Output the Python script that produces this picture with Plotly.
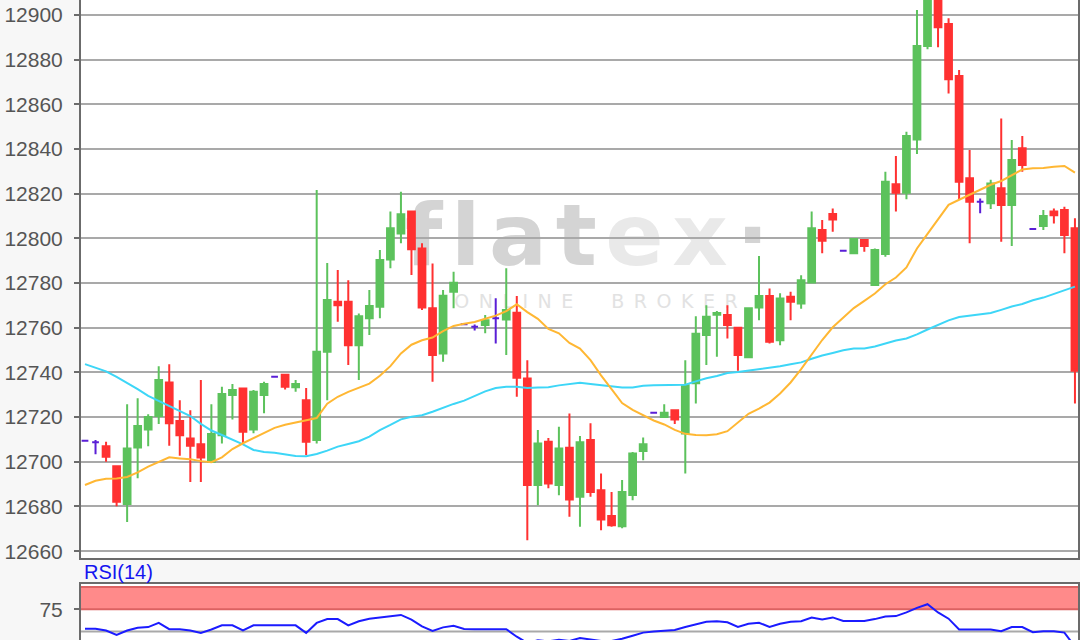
import plotly.graph_objects as go

# ---------------- data ----------------
opens = [12709.4, 12708.7, 12707.0, 12698.0, 12681.1, 12706.4, 12714.5, 12720.5, 12735.5, 12718.3,
         12710.4, 12707.9, 12700.0, 12711.9, 12729.9, 12732.8, 12714.5, 12729.9, 12738.1, 12739.0,
         12733.4, 12727.6, 12709.7, 12749.2, 12771.6, 12771.6, 12752.2, 12764.2, 12769.4, 12790.6,
         12802.2, 12812.0, 12795.5, 12768.7, 12748.5, 12776.1, 12761.6, 12760.4, 12761.2, 12764.2,
         12763.7, 12766.7, 12737.3, 12689.6, 12709.0, 12689.6, 12706.3, 12684.3, 12709.7, 12687.3,
         12675.7, 12671.2, 12685.1, 12704.8, 12721.9, 12720.1, 12723.1, 12712.7, 12735.1, 12756.7,
         12765.8, 12765.7, 12760.0, 12746.8, 12769.1, 12774.2, 12754.4, 12773.9, 12770.9, 12780.3,
         12803.7, 12810.9, 12794.5, 12793.3, 12799.3, 12779.1, 12793.0, 12824.2, 12820.4, 12844.3,
         12886.1, 12912.0, 12896.0, 12872.7, 12826.9, 12816.4, 12815.7, 12822.4, 12814.9, 12840.3,
         12804.2, 12805.5, 12812.0, 12812.7, 12804.5]
highs = [12709.4, 12709.7, 12709.0, 12698.0, 12725.8, 12728.4, 12721.3, 12742.8, 12743.7, 12727.6,
         12723.1, 12736.6, 12725.8, 12733.6, 12734.8, 12732.8, 12732.1, 12735.8, 12738.1, 12739.0,
         12736.6, 12733.0, 12821.6, 12789.0, 12785.8, 12781.3, 12766.4, 12776.9, 12794.8, 12812.0,
         12820.9, 12812.0, 12797.8, 12788.8, 12776.9, 12785.1, 12761.6, 12761.5, 12765.7, 12773.2,
         12786.6, 12774.2, 12745.5, 12714.2, 12710.6, 12715.7, 12721.6, 12711.5, 12717.2, 12694.8,
         12686.5, 12691.8, 12704.4, 12710.9, 12721.9, 12725.8, 12723.1, 12745.5, 12765.2, 12770.1,
         12767.5, 12770.1, 12760.0, 12768.7, 12792.1, 12777.6, 12775.4, 12776.1, 12783.5, 12812.0,
         12808.2, 12813.4, 12794.5, 12799.7, 12799.3, 12795.5, 12829.8, 12836.9, 12847.7, 12902.2,
         12916.0, 12918.0, 12898.5, 12875.4, 12839.6, 12817.9, 12826.2, 12853.7, 12844.0, 12845.8,
         12804.2, 12812.7, 12813.4, 12814.2, 12809.0]
lows = [12709.4, 12703.4, 12700.0, 12680.1, 12673.1, 12692.6, 12707.0, 12716.9, 12707.2, 12702.7,
        12691.0, 12691.0, 12699.5, 12708.2, 12718.9, 12708.2, 12712.8, 12721.7, 12738.1, 12732.4,
        12731.3, 12703.0, 12708.2, 12727.6, 12762.7, 12743.3, 12736.6, 12756.7, 12764.2, 12786.6,
        12797.8, 12783.6, 12767.9, 12735.8, 12744.8, 12768.7, 12761.6, 12758.8, 12757.5, 12753.0,
        12747.8, 12729.1, 12664.9, 12680.6, 12688.2, 12685.0, 12675.4, 12670.9, 12684.3, 12669.4,
        12670.9, 12670.2, 12682.8, 12700.7, 12721.9, 12720.1, 12716.9, 12694.8, 12726.1, 12743.3,
        12747.0, 12755.2, 12740.8, 12746.5, 12763.4, 12753.0, 12752.2, 12763.4, 12768.5, 12779.9,
        12793.3, 12803.0, 12794.5, 12793.3, 12794.0, 12778.8, 12791.8, 12812.0, 12817.5, 12837.8,
        12884.6, 12885.5, 12864.9, 12817.2, 12797.8, 12811.2, 12813.2, 12798.5, 12796.6, 12829.8,
        12804.2, 12803.7, 12806.7, 12793.3, 12726.1]
closes = [12709.4, 12708.7, 12702.2, 12682.1, 12706.0, 12716.0, 12720.1, 12736.6, 12717.2, 12711.9,
          12707.2, 12701.9, 12712.4, 12730.3, 12732.1, 12713.4, 12731.3, 12734.8, 12738.1, 12733.6,
          12734.8, 12709.0, 12749.2, 12772.4, 12770.1, 12752.2, 12765.2, 12769.7, 12790.3, 12804.5,
          12810.8, 12795.1, 12769.1, 12747.8, 12774.3, 12780.1, 12761.6, 12760.4, 12763.4, 12764.2,
          12767.9, 12737.6, 12689.6, 12708.2, 12690.3, 12706.0, 12683.1, 12708.8, 12686.5, 12674.2,
          12671.6, 12686.5, 12703.7, 12707.9, 12721.9, 12721.9, 12718.9, 12734.3, 12757.3, 12764.9,
          12766.6, 12761.2, 12747.8, 12768.7, 12774.2, 12753.7, 12773.1, 12771.6, 12781.3, 12804.5,
          12798.9, 12808.5, 12794.5, 12799.7, 12796.6, 12794.8, 12825.4, 12820.4, 12845.8, 12886.1,
          12912.0, 12894.5, 12871.2, 12825.4, 12816.4, 12816.4, 12824.6, 12814.9, 12835.1, 12832.8,
          12804.2, 12810.0, 12810.4, 12801.5, 12740.8]

ma_fast = [12689.6, 12691.5, 12692.4, 12692.5, 12693.2, 12695.3, 12697.8, 12699.8, 12702.0, 12701.5,
           12701.1, 12700.3, 12699.8, 12702.0, 12705.7, 12708.3, 12710.5, 12713.0, 12715.2, 12716.6,
           12717.7, 12718.7, 12719.6, 12726.0, 12729.1, 12731.3, 12733.3, 12735.0, 12738.5, 12742.8,
           12748.5, 12752.4, 12754.4, 12755.6, 12758.5, 12760.8, 12761.8, 12762.6, 12764.0, 12765.4,
           12767.4, 12770.5, 12767.0, 12764.0, 12759.5, 12757.5, 12753.2, 12750.7, 12745.5, 12738.7,
           12732.5, 12726.3, 12723.2, 12720.9, 12718.5, 12716.7, 12714.3, 12712.5, 12712.0, 12711.9,
           12712.3, 12713.7, 12717.5, 12721.5, 12723.8, 12726.5, 12730.6, 12735.5, 12741.5, 12748.0,
           12754.5, 12760.2, 12764.5, 12768.8, 12772.0, 12775.3, 12779.5, 12782.5, 12787.0, 12795.5,
           12802.0, 12808.5, 12815.0, 12817.3, 12819.5, 12822.0, 12824.0, 12825.7, 12828.4, 12830.8,
           12831.4, 12831.5, 12832.1, 12832.4, 12829.4]
ma_slow = [12743.7, 12742.0, 12740.5, 12738.0, 12735.3, 12732.5, 12729.5, 12727.2, 12724.8, 12722.8,
           12720.5, 12717.0, 12714.0, 12712.0, 12710.0, 12707.8, 12705.3, 12704.4, 12704.0, 12703.2,
           12702.6, 12702.5, 12703.5, 12705.0, 12706.8, 12708.0, 12709.2, 12711.3, 12714.2, 12716.5,
           12719.0, 12720.2, 12720.8, 12722.4, 12724.2, 12725.9, 12727.4, 12729.6, 12731.5, 12733.0,
           12733.6, 12733.6, 12733.0, 12733.3, 12733.4, 12734.2, 12734.9, 12735.4, 12734.8, 12734.3,
           12733.7, 12733.3, 12733.3, 12734.0, 12734.3, 12734.3, 12734.3, 12734.5, 12736.0, 12737.4,
           12738.4, 12739.7, 12740.2, 12740.8, 12741.4, 12742.1, 12742.8, 12743.7, 12744.5, 12746.1,
           12747.6, 12748.7, 12749.9, 12750.7, 12750.7, 12751.6, 12753.0, 12754.3, 12755.2, 12757.0,
           12759.2, 12761.3, 12763.3, 12764.8, 12765.5, 12765.9, 12766.6, 12768.0, 12769.5, 12770.6,
           12772.3, 12773.5, 12775.2, 12776.9, 12778.4]
rsi = [53.1, 53.1, 51.2, 46.2, 51.2, 54.3, 55.0, 59.7, 52.7, 52.7,
       51.2, 48.5, 52.3, 57.0, 57.0, 51.2, 57.0, 57.0, 57.0, 57.0,
       57.0, 48.5, 59.7, 64.0, 64.0, 57.0, 61.6, 64.5, 66.0, 68.0,
       68.7, 63.4, 55.8, 50.6, 54.7, 56.4, 52.9, 52.7, 52.7, 52.7,
       52.7, 44.2, 37.2, 40.1, 39.0, 40.7, 39.5, 42.7, 40.7, 39.5,
       39.5, 41.9, 45.3, 48.8, 50.0, 50.6, 51.7, 55.2, 58.1, 61.0,
       61.6, 60.5, 55.2, 58.7, 59.9, 55.2, 58.7, 61.0, 61.6, 65.7,
       63.6, 65.9, 62.0, 62.0, 62.0, 64.0, 66.9, 67.4, 71.5, 76.7,
       80.8, 71.5, 64.5, 52.3, 52.3, 52.3, 52.3, 50.3, 55.0, 55.0,
       49.2, 50.3, 50.3, 48.8, 33.0]

price_ticks = [12660, 12680, 12700, 12720, 12740, 12760, 12780, 12800, 12820, 12840, 12860, 12880, 12900]
price_labels = [str(v) for v in price_ticks]
rsi_ticks = [75]
rsi_mid = 50
rsi_upper = 75
rsi_top = 100
rsi_label = "RSI(14)"
brand = "f\u200al\u200aa\u200at\u200a<span style='color:#e9e9e9'>e\u200ax</span>\u200a·"
brand_sub = "\u2002".join("ONLINE") + "\u2003\u2003" + "\u2002".join("BROKER")

# ---------------- styles ----------------
GREEN = "#5cc25c"
RED = "#ff3131"
PURPLE = "#5a1fd6"
ORANGE = "#ffb733"
CYAN = "#3dd6f7"
GRID = "#a9a9a9"
AXIS = "#6b6b6b"
TICKFONT = dict(family="Liberation Sans, Arial, sans-serif", size=21, color="#555555")

idx = list(range(len(opens)))
up = [i for i in idx if closes[i] > opens[i]]
dn = [i for i in idx if closes[i] < opens[i]]
dj = [i for i in idx if closes[i] == opens[i]]

def pick(arr, ids):
    return [arr[i] for i in ids]

fig = go.Figure()

fig.add_trace(go.Scatter(x=idx, y=ma_slow, mode="lines", line=dict(color=CYAN, width=2),
                         xaxis="x", yaxis="y", hoverinfo="skip"))
fig.add_trace(go.Scatter(x=idx, y=ma_fast, mode="lines", line=dict(color=ORANGE, width=2),
                         xaxis="x", yaxis="y", hoverinfo="skip"))

for ids, col in ((up, GREEN), (dn, RED), (dj, PURPLE)):
    fig.add_trace(go.Candlestick(
        x=ids, open=pick(opens, ids), high=pick(highs, ids), low=pick(lows, ids), close=pick(closes, ids),
        increasing=dict(line=dict(color=col, width=2), fillcolor=col),
        decreasing=dict(line=dict(color=col, width=2), fillcolor=col),
        whiskerwidth=0, xaxis="x", yaxis="y", hoverinfo="skip"))

fig.add_trace(go.Scatter(x=idx, y=rsi, mode="lines", line=dict(color="#1b1bff", width=2),
                         xaxis="x2", yaxis="y2", hoverinfo="skip"))

shapes = [
    # overbought band
    dict(type="rect", xref="x2 domain", yref="y2", x0=0, x1=1, y0=rsi_upper, y1=rsi_top,
         fillcolor="#ff8a8a", line=dict(width=0), layer="below"),
    dict(type="line", xref="x2 domain", yref="y2", x0=0, x1=1, y0=rsi_top, y1=rsi_top,
         line=dict(color="#dc6262", width=2), layer="below"),
    dict(type="line", xref="x2 domain", yref="y2", x0=0, x1=1, y0=rsi_upper, y1=rsi_upper,
         line=dict(color="#dc6262", width=2), layer="below"),
    dict(type="line", xref="x2 domain", yref="y2", x0=0, x1=1, y0=rsi_mid, y1=rsi_mid,
         line=dict(color=GRID, width=2), layer="below"),
    # watermark
    dict(type="rect", xref="paper", yref="paper", x0=0.507, x1=0.508, y0=0.641, y1=0.642,
         line=dict(width=0), fillcolor="rgba(0,0,0,0)", layer="below",
         label=dict(text=brand, textposition="middle center",
                    font=dict(family="DejaVu Sans", size=86, color="#d4d4d4", weight="bold"))),
    dict(type="rect", xref="paper", yref="paper", x0=0.516, x1=0.517, y0=0.530, y1=0.531,
         line=dict(width=0), fillcolor="rgba(0,0,0,0)", layer="below",
         label=dict(text=brand_sub, textposition="middle center",
                    font=dict(family="DejaVu Sans", size=19, color="#e2e2e2"))),
]

fig.update_layout(
    width=1080, height=640,
    margin=dict(l=81, r=2, t=0, b=0, pad=0),
    paper_bgcolor="#f7f7f7", plot_bgcolor="#ffffff",
    showlegend=False, hovermode=False,
    boxgap=0.36, boxgroupgap=0,
    shapes=shapes,
    xaxis=dict(domain=[0, 1], anchor="y", range=[-0.38, 94.29], showgrid=False, zeroline=False,
               showticklabels=False, ticks="", showline=True, linecolor=AXIS, linewidth=2,
               automargin=False, rangeslider=dict(visible=False)),
    yaxis=dict(domain=[0.128, 1], anchor="x", range=[12656.9, 12906.7], tickvals=price_ticks,
               ticktext=price_labels, automargin=False,
               ticks="outside", ticklen=5, tickwidth=2, tickcolor=AXIS, ticklabelstandoff=7,
               tickfont=TICKFONT, showgrid=True, gridcolor=GRID, gridwidth=2, zeroline=False,
               showline=True, linecolor=AXIS, linewidth=2, mirror=True),
    xaxis2=dict(domain=[0, 1], anchor="y2", matches="x", showgrid=False, zeroline=False,
                showticklabels=False, ticks="", showline=True, linecolor=AXIS, linewidth=2,
                mirror=True, automargin=False),
    yaxis2=dict(domain=[0, 0.0875], anchor="x2", range=[40.5, 103.5], tickvals=rsi_ticks,
                ticks="outside", ticklen=5, tickwidth=2, tickcolor=AXIS, ticklabelstandoff=7,
                tickfont=TICKFONT, showgrid=False, zeroline=False, automargin=False,
                showline=True, linecolor=AXIS, linewidth=2, mirror=True),
    annotations=[dict(text=rsi_label, xref="paper", yref="paper", x=0.0015, y=0.106,
                      xanchor="left", yanchor="middle", showarrow=False,
                      font=dict(family="Liberation Sans, Arial, sans-serif", size=20, color="#1414f0"))],
)

fig.write_html(
    "out.html",
    config={"displayModeBar": False, "staticPlot": True},
    post_script="document.body.style.margin='0';document.body.style.overflow='hidden';",
)
